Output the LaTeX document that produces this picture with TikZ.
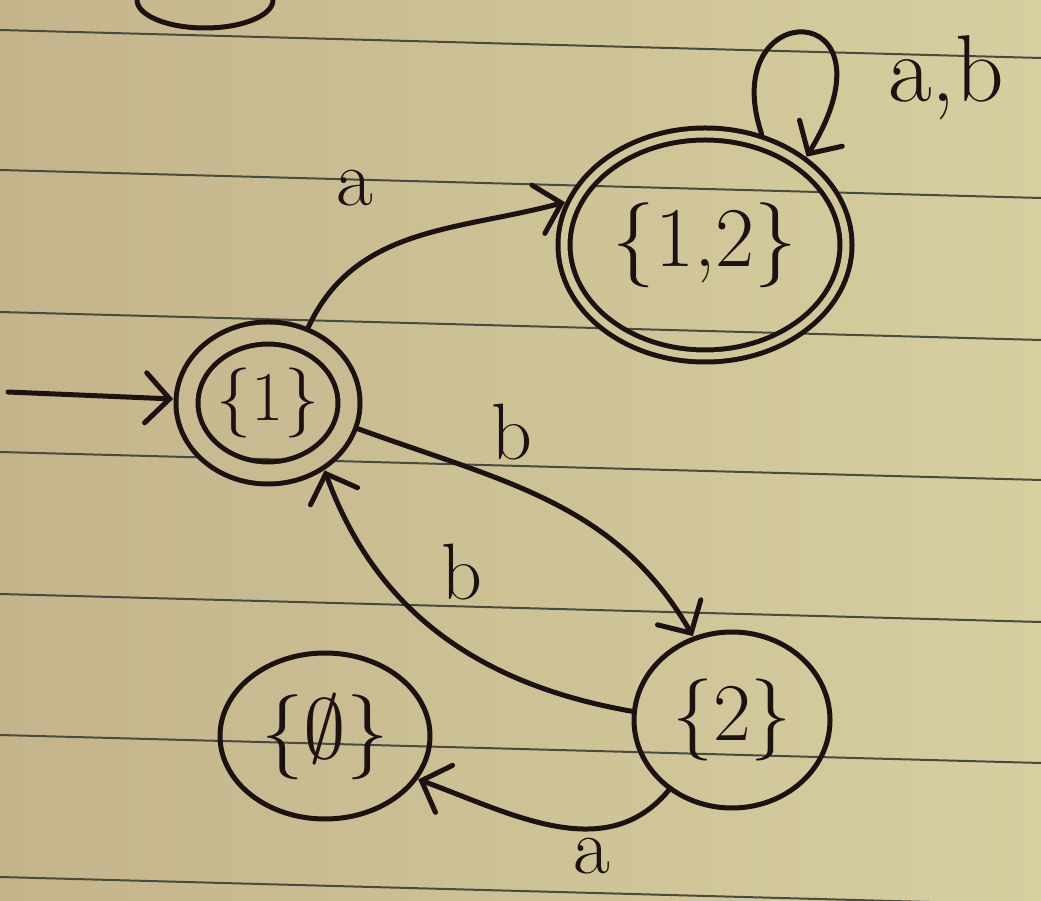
\documentclass[tikz,border=0pt]{standalone}
\usepackage{fontspec}
\usepackage{unicode-math}
\usetikzlibrary{shapes.geometric,arrows.meta}
\definecolor{ink}{RGB}{28,18,18}
\definecolor{paperL}{RGB}{196,180,140}
\definecolor{paperR}{RGB}{214,207,160}
\definecolor{rulecol}{RGB}{72,76,62}
\begin{document}
\begin{tikzpicture}[x=1pt,y=1pt,
  state/.style={ellipse, draw=ink, line width=5pt, inner sep=0pt, text=ink},
  edge/.style={draw=ink, line width=5pt, line cap=round, line join=round,
    -{Straight Barb[length=24pt,width=50pt,line cap=round]}},
  lbl/.style={text=ink, font=\fontsize{80}{80}\selectfont, inner sep=0pt},
]
\useasboundingbox (0,0) rectangle (1041,900);
\begin{scope}
\clip (0,0) rectangle (1041,900);
\shade[left color=paperL, right color=paperR] (0,0) rectangle (1041,900);
% ruled lines of the paper
\foreach \yy in {870,730,588,448,306,165,23}
  \draw[rulecol, line width=2pt] (0,\yy) -- (1041,\yy-28);
% partial circle at the top
\draw[ink, line width=5pt] (137,900) arc[start angle=180,end angle=360,x radius=68,y radius=28];

% states
\node[state, double=paperL!74!paperR, double distance=17pt, outer sep=14pt,
      minimum width=162pt, minimum height=140pt,
      font=\fontsize{70}{70}\selectfont] (S1) at (268,497) {\{1\}};
\node[state, double=paperL!32!paperR, double distance=7pt, outer sep=9pt,
      minimum width=282pt, minimum height=222pt,
      font=\fontsize{85}{85}\selectfont] (S12) at (705,655) {\{1,2\}};
\node[state, outer sep=3pt, minimum width=196pt, minimum height=176pt,
      font=\fontsize{82}{82}\selectfont] (S2) at (732,180) {\{2\}};
\node[state, outer sep=3pt, minimum width=210pt, minimum height=166pt,
      font=\fontsize{85}{85}\selectfont] (S0) at (325,164) {\{$\emptyset$\}};

% initial arrow
\coordinate (st) at (8,508);
\draw[edge] (st) -- (S1);

% transitions
\draw[edge] (S1.62) to[out=65,in=195] (S12.163);
\draw[edge] (S1.-16) to[out=-20,in=120] (S2.115);
\draw[edge] (S2.175) to[out=170,in=-70] (S1.-50);
\draw[edge] (S2.228) to[out=-130,in=-20] (S0.-25);
\draw[edge] (S12.63) .. controls (715,905) and (905,905) .. (S12.41);

% labels
\node[lbl] (la1) at (355,712) {a};
\node[lbl] (lb1) at (512,468) {b};
\node[lbl] (lb2) at (462,328) {b};
\node[lbl] (la2) at (592,44) {a};
\node[lbl, anchor=west, font=\fontsize{95}{95}\selectfont] (lab) at (888,822) {a,b};
\end{scope}
\end{tikzpicture}
\end{document}
